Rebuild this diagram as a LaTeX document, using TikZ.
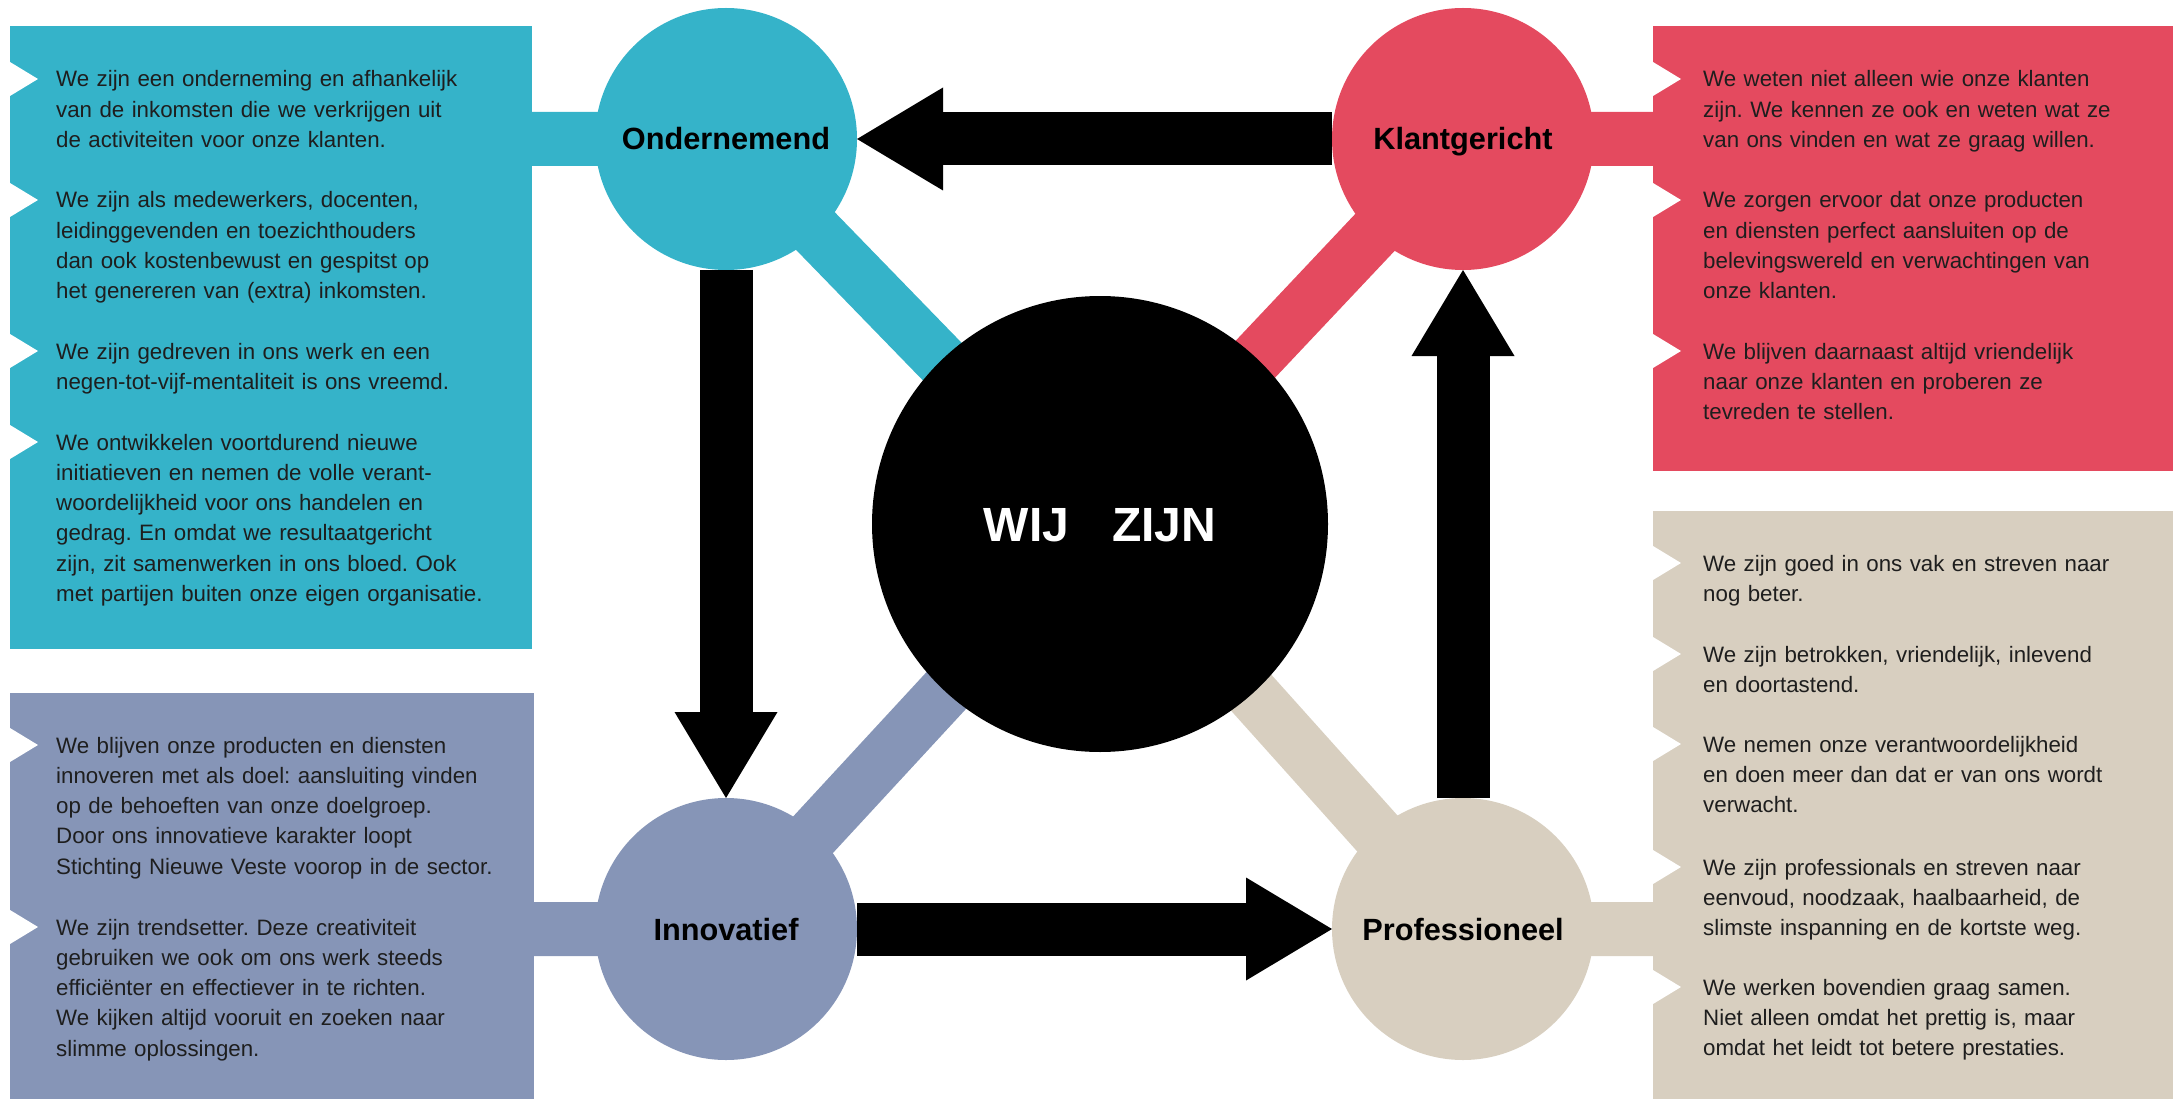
\documentclass[tikz,border=0pt]{standalone}
\usepackage{fontspec}
\setmainfont{Liberation Sans}
\frenchspacing
\usepackage{tikz}
\usetikzlibrary{arrows.meta}
\definecolor{ondC}{HTML}{35B3C9}
\definecolor{klantC}{HTML}{E44A5F}
\definecolor{innovC}{HTML}{8695B7}
\definecolor{profC}{HTML}{D8CFC0}
\definecolor{ink}{HTML}{1E1E1E}
\pgfdeclarelayer{back}
\pgfsetlayers{back,main}
\tikzset{
  panel/.style={draw=none, anchor=north west, inner sep=0pt, outer sep=0pt},
  bar/.style={draw=#1, line width=54pt},
  hub/.style={circle, draw=none, inner sep=0pt, outer sep=0pt, minimum size=262pt, text=black, text height=22pt, text depth=0pt, font=\fontsize{30.7}{34}\selectfont\bfseries},
  core/.style={circle, fill=black, inner sep=0pt, outer sep=0pt, minimum size=456pt, text=white, text height=34.4pt, text depth=0pt, font=\fontsize{48}{52}\selectfont\bfseries},
  flow/.style={draw=black, line width=53pt, -{Triangle[length=86pt, width=103pt, line width=0pt]}},
  para/.style={anchor=base west, inner sep=0pt, text width=470pt, align=left, text=ink, font=\fontsize{22.3}{30.3}\selectfont},
}
\newcommand{\notches}[2]{%
  \foreach \ty in {#2} {\fill[white] (#1,\ty-17) -- (#1+28,\ty) -- (#1,\ty+17) -- cycle;}%
}

\begin{document}
\begin{tikzpicture}[x=1pt, y=-1pt]
  \useasboundingbox (0,0) rectangle (2173,1099);

  \node[panel, fill=ondC, minimum width=522pt, minimum height=623pt] (ondBox) at (10,26) {};
  \node[panel, fill=klantC, minimum width=520pt, minimum height=445pt] (klantBox) at (1653,26) {};
  \node[panel, fill=innovC, minimum width=524pt, minimum height=406pt] (innovBox) at (10,693) {};
  \node[panel, fill=profC, minimum width=520pt, minimum height=588pt] (profBox) at (1653,511) {};
  \notches{10}{79,200,351,442}
  \notches{1653}{79,200,351}
  \notches{10}{745,927}
  \notches{1653}{563,654,744,867,987}

  \node[hub, fill=ondC] (onder) at (726,139) {Ondernemend};
  \node[hub, fill=klantC] (klant) at (1463,139) {Klantgericht};
  \node[hub, fill=innovC] (innov) at (726,929) {Innovatief};
  \node[hub, fill=profC] (prof) at (1463,929) {Professioneel};
  \node[core] (wij) at (1100,524) {WIJ\hspace{0.9em}ZIJN};

  \begin{pgfonlayer}{back}
    \draw[bar=ondC] (ondBox.east |- onder.center) -- (onder.center) -- (wij.center);
    \draw[bar=klantC] (klantBox.west |- klant.center) -- (klant.center) -- (wij.center);
    \draw[bar=innovC] (innovBox.east |- innov.center) -- (innov.center) -- (wij.center);
    \draw[bar=profC] (profBox.west |- prof.center) -- (prof.center) -- (wij.center);
  \end{pgfonlayer}

  \draw[flow] (klant) -- (onder);
  \draw[flow] (onder) -- (innov);
  \draw[flow] (innov) -- (prof);
  \draw[flow] (prof) -- (klant);

  \node[para] (ond1) at (56,87) {We zijn een onderneming en afhankelijk\\van de inkomsten die we verkrijgen uit\\de activiteiten voor onze klanten.};
  \node[para] (ond2) at (56,208) {We zijn als medewerkers, docenten,\\leidinggevenden en toezichthouders\\dan ook kostenbewust en gespitst op\\het genereren van (extra) inkomsten.};
  \node[para] (ond3) at (56,359) {We zijn gedreven in ons werk en een\\negen-tot-vijf-mentaliteit is ons vreemd.};
  \node[para] (ond4) at (56,450) {We ontwikkelen voortdurend nieuwe\\initiatieven en nemen de volle verant-\\woordelijkheid voor ons handelen en\\gedrag. En omdat we resultaatgericht\\zijn, zit samenwerken in ons bloed. Ook\\met partijen buiten onze eigen organisatie.};

  \node[para] (klant1) at (1703,87) {We weten niet alleen wie onze klanten\\zijn. We kennen ze ook en weten wat ze\\van ons vinden en wat ze graag willen.};
  \node[para] (klant2) at (1703,208) {We zorgen ervoor dat onze producten\\en diensten perfect aansluiten op de\\belevingswereld en verwachtingen van\\onze klanten.};
  \node[para] (klant3) at (1703,359) {We blijven daarnaast altijd vriendelijk\\naar onze klanten en proberen ze\\tevreden te stellen.};

  \node[para] (innov1) at (56,753) {We blijven onze producten en diensten\\innoveren met als doel: aansluiting vinden\\op de behoeften van onze doelgroep.\\Door ons innovatieve karakter loopt\\Stichting Nieuwe Veste voorop in de sector.};
  \node[para] (innov2) at (56,935) {We zijn trendsetter. Deze creativiteit\\gebruiken we ook om ons werk steeds\\efficiënter en effectiever in te richten.\\We kijken altijd vooruit en zoeken naar\\slimme oplossingen.};

  \node[para] (prof1) at (1703,571) {We zijn goed in ons vak en streven naar\\nog beter.};
  \node[para] (prof2) at (1703,662) {We zijn betrokken, vriendelijk, inlevend\\en doortastend.};
  \node[para] (prof3) at (1703,752) {We nemen onze verantwoordelijkheid\\en doen meer dan dat er van ons wordt\\verwacht.};
  \node[para] (prof4) at (1703,875) {We zijn professionals en streven naar\\eenvoud, noodzaak, haalbaarheid, de\\slimste inspanning en de kortste weg.};
  \node[para] (prof5) at (1703,995) {We werken bovendien graag samen.\\Niet alleen omdat het prettig is, maar\\omdat het leidt tot betere prestaties.};
\end{tikzpicture}
\end{document}
